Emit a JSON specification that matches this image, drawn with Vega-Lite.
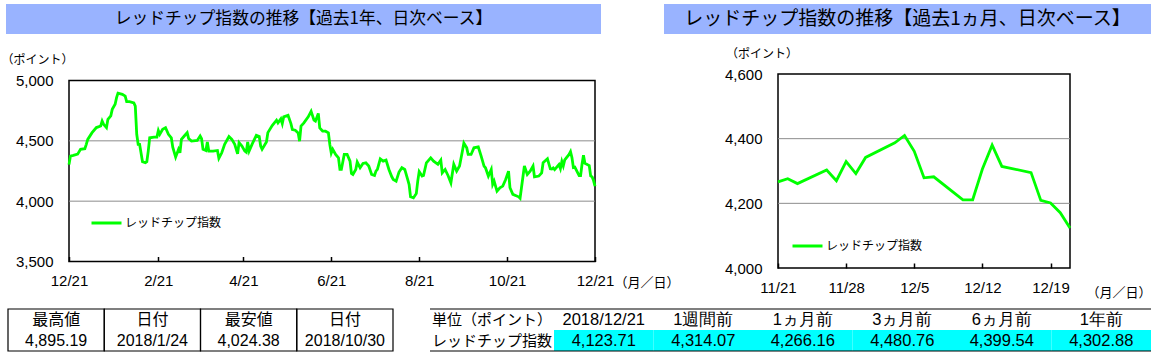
{
  "$schema": "https://vega.github.io/schema/vega-lite/v6.json",
  "padding": {"left": 0, "top": 4, "right": 0, "bottom": 0},
  "background": "white",
  "spacing": 2,
  "config": {
    "view": {"stroke": null},
    "font": "Liberation Sans",
    "axis": {"labelColor": "#000", "titleColor": "#000", "grid": false, "domain": false, "labelFont": "Liberation Sans"}
  },
  "resolve": {"scale": {"color": "independent"}, "legend": {"color": "independent"}},
  "datasets": {
    "year": [
      {"d": "2017-12-21", "v": 4302.88}, {"d": "2017-12-22", "v": 4374}, {"d": "2017-12-24", "v": 4380}, {"d": "2017-12-27", "v": 4390}, {"d": "2017-12-29", "v": 4430},
      {"d": "2018-01-01", "v": 4435}, {"d": "2018-01-02", "v": 4471}, {"d": "2018-01-03", "v": 4512}, {"d": "2018-01-06", "v": 4568}, {"d": "2018-01-09", "v": 4610},
      {"d": "2018-01-12", "v": 4623}, {"d": "2018-01-13", "v": 4664}, {"d": "2018-01-14", "v": 4637}, {"d": "2018-01-16", "v": 4609}, {"d": "2018-01-17", "v": 4678},
      {"d": "2018-01-19", "v": 4706}, {"d": "2018-01-20", "v": 4761}, {"d": "2018-01-22", "v": 4803}, {"d": "2018-01-23", "v": 4858}, {"d": "2018-01-24", "v": 4895.19},
      {"d": "2018-01-27", "v": 4885}, {"d": "2018-01-29", "v": 4870}, {"d": "2018-01-30", "v": 4825}, {"d": "2018-02-01", "v": 4825}, {"d": "2018-02-04", "v": 4815},
      {"d": "2018-02-05", "v": 4788}, {"d": "2018-02-06", "v": 4554}, {"d": "2018-02-07", "v": 4471}, {"d": "2018-02-08", "v": 4471}, {"d": "2018-02-10", "v": 4327},
      {"d": "2018-02-12", "v": 4319}, {"d": "2018-02-13", "v": 4327}, {"d": "2018-02-14", "v": 4415}, {"d": "2018-02-15", "v": 4525}, {"d": "2018-02-18", "v": 4531},
      {"d": "2018-02-20", "v": 4531}, {"d": "2018-02-21", "v": 4585}, {"d": "2018-02-22", "v": 4554}, {"d": "2018-02-24", "v": 4595}, {"d": "2018-02-26", "v": 4609},
      {"d": "2018-02-28", "v": 4554}, {"d": "2018-03-02", "v": 4525}, {"d": "2018-03-03", "v": 4448}, {"d": "2018-03-05", "v": 4365}, {"d": "2018-03-07", "v": 4430},
      {"d": "2018-03-08", "v": 4401}, {"d": "2018-03-09", "v": 4512}, {"d": "2018-03-11", "v": 4540}, {"d": "2018-03-13", "v": 4568}, {"d": "2018-03-14", "v": 4520},
      {"d": "2018-03-16", "v": 4498}, {"d": "2018-03-20", "v": 4503}, {"d": "2018-03-22", "v": 4540}, {"d": "2018-03-23", "v": 4517}, {"d": "2018-03-24", "v": 4430},
      {"d": "2018-03-26", "v": 4420}, {"d": "2018-03-27", "v": 4490}, {"d": "2018-03-28", "v": 4415}, {"d": "2018-03-31", "v": 4415}, {"d": "2018-04-03", "v": 4420},
      {"d": "2018-04-04", "v": 4355}, {"d": "2018-04-06", "v": 4401}, {"d": "2018-04-08", "v": 4471}, {"d": "2018-04-11", "v": 4535}, {"d": "2018-04-13", "v": 4512},
      {"d": "2018-04-15", "v": 4471}, {"d": "2018-04-17", "v": 4392}, {"d": "2018-04-18", "v": 4485}, {"d": "2018-04-20", "v": 4457}, {"d": "2018-04-22", "v": 4415},
      {"d": "2018-04-23", "v": 4406}, {"d": "2018-04-24", "v": 4490}, {"d": "2018-04-25", "v": 4415}, {"d": "2018-04-27", "v": 4471}, {"d": "2018-04-30", "v": 4545},
      {"d": "2018-05-02", "v": 4535}, {"d": "2018-05-03", "v": 4457}, {"d": "2018-05-04", "v": 4430}, {"d": "2018-05-07", "v": 4490}, {"d": "2018-05-08", "v": 4568},
      {"d": "2018-05-11", "v": 4627}, {"d": "2018-05-14", "v": 4671}, {"d": "2018-05-15", "v": 4649}, {"d": "2018-05-17", "v": 4682}, {"d": "2018-05-18", "v": 4643},
      {"d": "2018-05-19", "v": 4699}, {"d": "2018-05-22", "v": 4712}, {"d": "2018-05-24", "v": 4643}, {"d": "2018-05-25", "v": 4594}, {"d": "2018-05-27", "v": 4588},
      {"d": "2018-05-29", "v": 4566}, {"d": "2018-05-30", "v": 4497}, {"d": "2018-05-31", "v": 4622}, {"d": "2018-06-02", "v": 4649}, {"d": "2018-06-05", "v": 4699},
      {"d": "2018-06-07", "v": 4745}, {"d": "2018-06-09", "v": 4671}, {"d": "2018-06-10", "v": 4663}, {"d": "2018-06-12", "v": 4727}, {"d": "2018-06-13", "v": 4608},
      {"d": "2018-06-15", "v": 4580}, {"d": "2018-06-17", "v": 4580}, {"d": "2018-06-19", "v": 4566}, {"d": "2018-06-20", "v": 4470}, {"d": "2018-06-21", "v": 4399.54},
      {"d": "2018-06-22", "v": 4430}, {"d": "2018-06-24", "v": 4387}, {"d": "2018-06-26", "v": 4359}, {"d": "2018-06-27", "v": 4263}, {"d": "2018-06-28", "v": 4263},
      {"d": "2018-06-30", "v": 4387}, {"d": "2018-07-02", "v": 4387}, {"d": "2018-07-04", "v": 4332}, {"d": "2018-07-05", "v": 4229}, {"d": "2018-07-06", "v": 4221},
      {"d": "2018-07-08", "v": 4263}, {"d": "2018-07-09", "v": 4324}, {"d": "2018-07-11", "v": 4277}, {"d": "2018-07-13", "v": 4313}, {"d": "2018-07-15", "v": 4318},
      {"d": "2018-07-17", "v": 4291}, {"d": "2018-07-19", "v": 4221}, {"d": "2018-07-21", "v": 4213}, {"d": "2018-07-22", "v": 4249}, {"d": "2018-07-23", "v": 4263},
      {"d": "2018-07-25", "v": 4351}, {"d": "2018-07-27", "v": 4332}, {"d": "2018-07-29", "v": 4340}, {"d": "2018-07-31", "v": 4263}, {"d": "2018-08-02", "v": 4202},
      {"d": "2018-08-03", "v": 4180}, {"d": "2018-08-05", "v": 4166}, {"d": "2018-08-07", "v": 4241}, {"d": "2018-08-09", "v": 4277}, {"d": "2018-08-11", "v": 4263},
      {"d": "2018-08-13", "v": 4180}, {"d": "2018-08-14", "v": 4138}, {"d": "2018-08-15", "v": 4036}, {"d": "2018-08-17", "v": 4027}, {"d": "2018-08-19", "v": 4063},
      {"d": "2018-08-20", "v": 4166}, {"d": "2018-08-21", "v": 4245}, {"d": "2018-08-23", "v": 4208}, {"d": "2018-08-24", "v": 4213}, {"d": "2018-08-26", "v": 4318},
      {"d": "2018-08-29", "v": 4359}, {"d": "2018-08-31", "v": 4332}, {"d": "2018-09-03", "v": 4305}, {"d": "2018-09-05", "v": 4340}, {"d": "2018-09-06", "v": 4235},
      {"d": "2018-09-08", "v": 4263}, {"d": "2018-09-10", "v": 4213}, {"d": "2018-09-12", "v": 4152}, {"d": "2018-09-14", "v": 4305}, {"d": "2018-09-16", "v": 4249},
      {"d": "2018-09-18", "v": 4291}, {"d": "2018-09-20", "v": 4415}, {"d": "2018-09-21", "v": 4480.76}, {"d": "2018-09-23", "v": 4442}, {"d": "2018-09-24", "v": 4387},
      {"d": "2018-09-26", "v": 4387}, {"d": "2018-09-28", "v": 4442}, {"d": "2018-10-01", "v": 4450}, {"d": "2018-10-03", "v": 4373}, {"d": "2018-10-05", "v": 4291},
      {"d": "2018-10-06", "v": 4277}, {"d": "2018-10-08", "v": 4208}, {"d": "2018-10-10", "v": 4263}, {"d": "2018-10-11", "v": 4139}, {"d": "2018-10-12", "v": 4166},
      {"d": "2018-10-14", "v": 4083}, {"d": "2018-10-16", "v": 4111}, {"d": "2018-10-18", "v": 4125}, {"d": "2018-10-20", "v": 4180}, {"d": "2018-10-22", "v": 4249},
      {"d": "2018-10-23", "v": 4111}, {"d": "2018-10-25", "v": 4056}, {"d": "2018-10-29", "v": 4036}, {"d": "2018-10-30", "v": 4024.38}, {"d": "2018-11-02", "v": 4291},
      {"d": "2018-11-04", "v": 4221}, {"d": "2018-11-06", "v": 4249}, {"d": "2018-11-08", "v": 4291}, {"d": "2018-11-09", "v": 4202}, {"d": "2018-11-12", "v": 4208},
      {"d": "2018-11-14", "v": 4235}, {"d": "2018-11-15", "v": 4318}, {"d": "2018-11-18", "v": 4351}, {"d": "2018-11-20", "v": 4268},
      {"d": "2018-11-21", "v": 4266.16}, {"d": "2018-11-22", "v": 4276}, {"d": "2018-11-23", "v": 4261}, {"d": "2018-11-26", "v": 4303}, {"d": "2018-11-27", "v": 4270},
      {"d": "2018-11-28", "v": 4329}, {"d": "2018-11-29", "v": 4292}, {"d": "2018-11-30", "v": 4342}, {"d": "2018-12-03", "v": 4387}, {"d": "2018-12-04", "v": 4410},
      {"d": "2018-12-05", "v": 4361}, {"d": "2018-12-06", "v": 4279}, {"d": "2018-12-07", "v": 4282}, {"d": "2018-12-10", "v": 4211}, {"d": "2018-12-11", "v": 4211},
      {"d": "2018-12-12", "v": 4306}, {"d": "2018-12-13", "v": 4380}, {"d": "2018-12-14", "v": 4314.07}, {"d": "2018-12-17", "v": 4295}, {"d": "2018-12-18", "v": 4209},
      {"d": "2018-12-19", "v": 4201}, {"d": "2018-12-20", "v": 4171}, {"d": "2018-12-21", "v": 4123.71}
    ],
    "month": [
      {"d": "2018-11-21", "v": 4266.16}, {"d": "2018-11-22", "v": 4276}, {"d": "2018-11-23", "v": 4261}, {"d": "2018-11-26", "v": 4303}, {"d": "2018-11-27", "v": 4270},
      {"d": "2018-11-28", "v": 4329}, {"d": "2018-11-29", "v": 4292}, {"d": "2018-11-30", "v": 4342}, {"d": "2018-12-03", "v": 4387}, {"d": "2018-12-04", "v": 4410},
      {"d": "2018-12-05", "v": 4361}, {"d": "2018-12-06", "v": 4279}, {"d": "2018-12-07", "v": 4282}, {"d": "2018-12-10", "v": 4211}, {"d": "2018-12-11", "v": 4211},
      {"d": "2018-12-12", "v": 4306}, {"d": "2018-12-13", "v": 4380}, {"d": "2018-12-14", "v": 4314.07}, {"d": "2018-12-17", "v": 4295}, {"d": "2018-12-18", "v": 4209},
      {"d": "2018-12-19", "v": 4201}, {"d": "2018-12-20", "v": 4171}, {"d": "2018-12-21", "v": 4123.71}
    ]
  },
  "vconcat": [
    {
      "hconcat": [
        {"width": 5, "height": 30, "data": {"values": [{}]}, "mark": {"type": "rect", "opacity": 0}},
        {
          "width": 595, "height": 30,
          "view": {"fill": "#99B3FF", "stroke": null},
          "data": {"values": [{"t": "レッドチップ指数の推移【過去1年、日次ベース】"}]},
          "mark": {"type": "text", "font": "Noto Sans CJK JP", "fontSize": 16.8, "color": "#000"},
          "encoding": {"text": {"field": "t"}}
        },
        {"width": 63, "height": 30, "data": {"values": [{}]}, "mark": {"type": "rect", "opacity": 0}},
        {
          "width": 487, "height": 30,
          "view": {"fill": "#99B3FF", "stroke": null},
          "data": {"values": [{"t": "レッドチップ指数の推移【過去1ヵ月、日次ベース】"}]},
          "mark": {"type": "text", "font": "Noto Sans CJK JP", "fontSize": 19, "color": "#000"},
          "encoding": {"text": {"field": "t"}}
        }
      ],
      "spacing": 0, "bounds": "flush"
    },
    {
      "hconcat": [
        {"width": 68, "height": 1, "data": {"values": [{}]}, "mark": {"type": "rect", "opacity": 0}},
        {
          "width": 526, "height": 181,
          "view": {"stroke": "#000", "strokeWidth": 1.5},
          "encoding": {
            "y": {
              "type": "quantitative",
              "scale": {"domain": [3500, 5000]},
              "axis": {
                "values": [3500, 4000, 4500, 5000], "format": ",.0f",
                "labelFontSize": 15, "ticks": false, "labelPadding": 16,
                "title": "（ポイント）", "titleX": -68, "titleY": -21.5, "titleAlign": "left", "titleBaseline": "middle",
                "titleAngle": 0, "titleFont": "Noto Sans CJK JP", "titleFontSize": 12, "titleFontWeight": "normal"
              }
            }
          },
          "layer": [
            {
              "data": {"values": [{"v": 4000}, {"v": 4500}]},
              "mark": {"type": "rule", "color": "#8C8C8C", "strokeWidth": 1},
              "encoding": {"y": {"field": "v"}}
            },
            {
              "data": {"name": "year"},
              "mark": {"type": "line", "strokeWidth": 2.8},
              "encoding": {
                "y": {"field": "v"},
                "x": {
                  "field": "d", "type": "temporal",
                  "scale": {"type": "utc", "domain": [{"year": 2017, "month": 12, "date": 21, "utc": true}, {"year": 2018, "month": 12, "date": 21, "utc": true}]},
                  "axis": {
                    "values": [
                      {"year": 2017, "month": 12, "date": 21, "utc": true}, {"year": 2018, "month": 2, "date": 21, "utc": true},
                      {"year": 2018, "month": 4, "date": 21, "utc": true}, {"year": 2018, "month": 6, "date": 21, "utc": true},
                      {"year": 2018, "month": 8, "date": 21, "utc": true}, {"year": 2018, "month": 10, "date": 21, "utc": true},
                      {"year": 2018, "month": 12, "date": 21, "utc": true}
                    ],
                    "labelExpr": "utcFormat(datum.value, '%-m/%d')",
                    "labelFontSize": 15, "labelFlush": false, "labelOverlap": false,
                    "ticks": true, "tickSize": -5, "tickColor": "#000", "tickWidth": 1.5, "labelPadding": 17,
                    "title": "（月／日）", "titleX": 545, "titleY": 21, "titleAlign": "left", "titleBaseline": "middle",
                    "titleFont": "Noto Sans CJK JP", "titleFontSize": 13, "titleFontWeight": "normal", "titleAngle": 0
                  }
                },
                "color": {
                  "datum": "レッドチップ指数",
                  "scale": {"range": ["#00FF00"]},
                  "legend": {
                    "orient": "none", "legendX": 21, "legendY": 126, "title": null, "padding": 0,
                    "symbolType": "stroke", "symbolSize": 900, "symbolStrokeWidth": 3,
                    "labelFont": "Noto Sans CJK JP", "labelFontSize": 12, "labelOffset": 2, "labelColor": "#000"
                  }
                }
              }
            }
          ]
        },
        {"width": 183, "height": 270, "data": {"values": [{}]}, "mark": {"type": "rect", "opacity": 0}},
        {
          "width": 292, "height": 194,
          "view": {"stroke": "#000", "strokeWidth": 1.5},
          "encoding": {
            "y": {
              "type": "quantitative",
              "scale": {"domain": [4000, 4600]},
              "axis": {
                "values": [4000, 4200, 4400, 4600], "format": ",.0f",
                "labelFontSize": 15, "ticks": false, "labelPadding": 16,
                "title": "（ポイント）", "titleX": -52.5, "titleY": -20.5, "titleAlign": "left", "titleBaseline": "middle",
                "titleAngle": 0, "titleFont": "Noto Sans CJK JP", "titleFontSize": 12, "titleFontWeight": "normal"
              }
            }
          },
          "layer": [
            {
              "data": {"values": [{"v": 4200}, {"v": 4400}]},
              "mark": {"type": "rule", "color": "#8C8C8C", "strokeWidth": 1},
              "encoding": {"y": {"field": "v"}}
            },
            {
              "data": {"name": "month"},
              "mark": {"type": "line", "strokeWidth": 2.8},
              "encoding": {
                "y": {"field": "v"},
                "x": {
                  "field": "d", "type": "temporal",
                  "scale": {"type": "utc", "domain": [{"year": 2018, "month": 11, "date": 21, "utc": true}, {"year": 2018, "month": 12, "date": 21, "utc": true}]},
                  "axis": {
                    "values": [
                      {"year": 2018, "month": 11, "date": 21, "utc": true}, {"year": 2018, "month": 11, "date": 28, "utc": true},
                      {"year": 2018, "month": 12, "date": 5, "utc": true}, {"year": 2018, "month": 12, "date": 12, "utc": true},
                      {"year": 2018, "month": 12, "date": 19, "utc": true}
                    ],
                    "labelExpr": "utcFormat(datum.value, '%-m/%-d')",
                    "labelFontSize": 15, "labelFlush": false, "labelOverlap": false,
                    "ticks": true, "tickSize": -5, "tickColor": "#000", "tickWidth": 1.5, "labelPadding": 17,
                    "title": "（月／日）", "titleX": 308, "titleY": 24, "titleAlign": "left", "titleBaseline": "middle",
                    "titleFont": "Noto Sans CJK JP", "titleFontSize": 13, "titleFontWeight": "normal", "titleAngle": 0
                  }
                },
                "color": {
                  "datum": "レッドチップ指数",
                  "scale": {"range": ["#00FF00"]},
                  "legend": {
                    "orient": "none", "legendX": 13, "legendY": 155.5, "title": null, "padding": 0,
                    "symbolType": "stroke", "symbolSize": 900, "symbolStrokeWidth": 3,
                    "labelFont": "Noto Sans CJK JP", "labelFontSize": 12, "labelOffset": 2, "labelColor": "#000"
                  }
                }
              }
            }
          ]
        }
      ],
      "spacing": 0, "bounds": "flush", "center": true,
      "resolve": {"scale": {"color": "independent"}, "legend": {"color": "independent"}}
    },
    {
      "hconcat": [
        {"width": 7, "height": 42, "data": {"values": [{}]}, "mark": {"type": "rect", "opacity": 0}},
        {
          "width": 385, "height": 42,
          "data": {"values": [
            {"c": "a", "r": "h", "t": "最高値"}, {"c": "b", "r": "h", "t": "日付"}, {"c": "c", "r": "h", "t": "最安値"}, {"c": "d", "r": "h", "t": "日付"},
            {"c": "a", "r": "v", "t": "4,895.19"}, {"c": "b", "r": "v", "t": "2018/1/24"}, {"c": "c", "r": "v", "t": "4,024.38"}, {"c": "d", "r": "v", "t": "2018/10/30"}
          ]},
          "layer": [
            {
              "transform": [{"filter": "datum.r === 'h'"}],
              "mark": {"type": "rect", "filled": false, "stroke": "#000", "strokeWidth": 1.2},
              "encoding": {"x": {"field": "c", "type": "nominal", "scale": {"domain": ["a", "b", "c", "d"], "paddingInner": 0, "paddingOuter": 0}, "axis": null}}
            },
            {
              "transform": [{"filter": "datum.r === 'h'"}],
              "mark": {"type": "text", "font": "Noto Sans CJK JP", "fontSize": 16, "color": "#000"},
              "encoding": {
                "x": {"field": "c", "type": "nominal", "scale": {"domain": ["a", "b", "c", "d"], "paddingInner": 0, "paddingOuter": 0}, "axis": null},
                "y": {"field": "r", "type": "nominal", "scale": {"domain": ["h", "v"], "paddingInner": 0, "paddingOuter": 0}, "axis": null},
                "text": {"field": "t"}
              }
            },
            {
              "transform": [{"filter": "datum.r === 'v'"}],
              "mark": {"type": "text", "font": "Liberation Sans", "fontSize": 16, "color": "#000"},
              "encoding": {
                "x": {"field": "c", "type": "nominal", "scale": {"domain": ["a", "b", "c", "d"], "paddingInner": 0, "paddingOuter": 0}, "axis": null},
                "y": {"field": "r", "type": "nominal", "scale": {"domain": ["h", "v"], "paddingInner": 0, "paddingOuter": 0}, "axis": null},
                "text": {"field": "t"}
              }
            }
          ]
        },
        {"width": 37, "height": 42, "data": {"values": [{}]}, "mark": {"type": "rect", "opacity": 0}},
        {
          "width": 124, "height": 42,
          "data": {"values": [{"r": "h", "t": "単位（ポイント）"}, {"r": "v", "t": "レッドチップ指数"}]},
          "layer": [
            {
              "transform": [{"filter": "datum.r === 'h'"}],
              "mark": {"type": "rule", "color": "#000", "strokeWidth": 1.2},
              "encoding": {"y": {"field": "r", "type": "nominal", "bandPosition": 0, "scale": {"domain": ["h", "v"], "paddingInner": 0, "paddingOuter": 0}, "axis": null}}
            },
            {
              "transform": [{"filter": "datum.r === 'v'"}],
              "mark": {"type": "rule", "color": "#000", "strokeWidth": 1.2},
              "encoding": {"y": {"field": "r", "type": "nominal", "bandPosition": 1, "scale": {"domain": ["h", "v"], "paddingInner": 0, "paddingOuter": 0}, "axis": null}}
            },
            {
              "mark": {"type": "text", "font": "Noto Sans CJK JP", "fontSize": 15, "color": "#000"},
              "encoding": {
                "y": {"field": "r", "type": "nominal", "scale": {"domain": ["h", "v"], "paddingInner": 0, "paddingOuter": 0}, "axis": null},
                "text": {"field": "t"}
              }
            }
          ]
        },
        {
          "width": 597, "height": 42,
          "data": {"values": [
            {"c": "a", "r": "h", "t": "2018/12/21"}, {"c": "b", "r": "h", "t": "1週間前"}, {"c": "c", "r": "h", "t": "1ヵ月前"},
            {"c": "d", "r": "h", "t": "3ヵ月前"}, {"c": "e", "r": "h", "t": "6ヵ月前"}, {"c": "f", "r": "h", "t": "1年前"},
            {"c": "a", "r": "v", "t": "4,123.71"}, {"c": "b", "r": "v", "t": "4,314.07"}, {"c": "c", "r": "v", "t": "4,266.16"},
            {"c": "d", "r": "v", "t": "4,480.76"}, {"c": "e", "r": "v", "t": "4,399.54"}, {"c": "f", "r": "v", "t": "4,302.88"}
          ]},
          "layer": [
            {
              "transform": [{"filter": "datum.r === 'v'"}],
              "mark": {"type": "rect", "color": "#00FFFF"},
              "encoding": {
                "x": {"field": "c", "type": "nominal", "scale": {"domain": ["a", "b", "c", "d", "e", "f"], "paddingInner": 0, "paddingOuter": 0}, "axis": null},
                "y": {"field": "r", "type": "nominal", "scale": {"domain": ["h", "v"], "paddingInner": 0, "paddingOuter": 0}, "axis": null}
              }
            },
            {
              "transform": [{"filter": "datum.r === 'h' && datum.c === 'a'"}],
              "mark": {"type": "rule", "color": "#000", "strokeWidth": 1.2},
              "encoding": {"y": {"field": "r", "type": "nominal", "bandPosition": 0, "scale": {"domain": ["h", "v"], "paddingInner": 0, "paddingOuter": 0}, "axis": null}}
            },
            {
              "transform": [{"filter": "datum.r === 'v' && datum.c === 'a'"}],
              "mark": {"type": "rule", "color": "#000", "strokeWidth": 1.2},
              "encoding": {"y": {"field": "r", "type": "nominal", "bandPosition": 1, "scale": {"domain": ["h", "v"], "paddingInner": 0, "paddingOuter": 0}, "axis": null}}
            },
            {
              "mark": {"type": "text", "font": "Liberation Sans", "fontSize": 16.5, "color": "#000"},
              "encoding": {
                "x": {"field": "c", "type": "nominal", "scale": {"domain": ["a", "b", "c", "d", "e", "f"], "paddingInner": 0, "paddingOuter": 0}, "axis": null},
                "y": {"field": "r", "type": "nominal", "scale": {"domain": ["h", "v"], "paddingInner": 0, "paddingOuter": 0}, "axis": null},
                "text": {"field": "t"}
              }
            }
          ]
        }
      ],
      "spacing": 0, "bounds": "flush"
    }
  ]
}
